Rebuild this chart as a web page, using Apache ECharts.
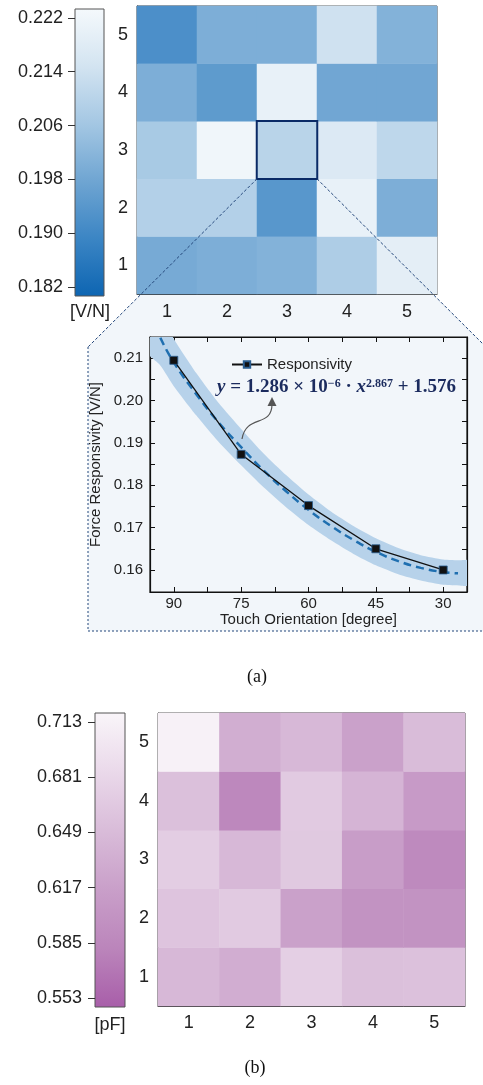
<!DOCTYPE html>
<html><head><meta charset="utf-8">
<script src="https://cdn.jsdelivr.net/npm/echarts@6/dist/echarts.min.js"></script>
<style>html,body{margin:0;padding:0;background:#fff}#c{width:483px;height:1085px}</style>
</head><body><div id="c"></div>
<script>
// ---------- data ----------
const xCats = ['1','2','3','4','5'];
const yCats = ['1','2','3','4','5'];
// Force responsivity [V/N], rows from y=1 (bottom) to y=5 (top)
const respRow1 = [0.199, 0.200, 0.201, 0.208, 0.219];
const respRow2 = [0.209, 0.209, 0.194, 0.220, 0.200];
const respRow3 = [0.207, 0.222, 0.210, 0.217, 0.211];
const respRow4 = [0.200, 0.195, 0.220, 0.198, 0.198];
const respRow5 = [0.192, 0.200, 0.200, 0.214, 0.201];
const respTicks = [0.182, 0.190, 0.198, 0.206, 0.214, 0.222];
// Capacitance [pF]
const capRow1 = [0.645, 0.632, 0.672, 0.655, 0.656];
const capRow2 = [0.660, 0.667, 0.618, 0.600, 0.600];
const capRow3 = [0.670, 0.645, 0.665, 0.613, 0.588];
const capRow4 = [0.655, 0.586, 0.667, 0.641, 0.610];
const capRow5 = [0.713, 0.633, 0.645, 0.618, 0.650];
const capTicks = [0.553, 0.585, 0.617, 0.649, 0.681, 0.713];
// inset: responsivity vs touch orientation
const orientDeg = [90, 75, 60, 45, 30];
const respVal = [0.2095, 0.1873, 0.1752, 0.1650, 0.1600];
const fitX = [93, 90, 85, 80, 75, 70, 65, 60, 55, 50, 45, 40, 35, 30, 26.7];
const fitY = [0.2148, 0.2090, 0.2015, 0.1948, 0.1890, 0.1835, 0.1786, 0.1742, 0.1704, 0.1671, 0.1643, 0.1621, 0.1605, 0.1595, 0.1592];
const bandX = [97, 93, 90, 85, 80, 75, 70, 65, 60, 55, 50, 45, 40, 35, 30, 26, 21];
const bandLow = [0.2125, 0.2083, 0.2034, 0.1965, 0.1902, 0.1847, 0.1795, 0.1748, 0.1706, 0.1670, 0.1638, 0.1611, 0.1590, 0.1575, 0.1565, 0.1563, 0.1563];
const bandHigh = [0.2290, 0.2213, 0.2146, 0.2065, 0.1994, 0.1933, 0.1875, 0.1824, 0.1778, 0.1738, 0.1704, 0.1675, 0.1652, 0.1635, 0.1625, 0.1623, 0.1623];
const degTicks = [30, 37.5, 45, 52.5, 60, 67.5, 75, 82.5, 90];
const degLabels = [30, 45, 60, 75, 90];
const rTicks = [0.16, 0.165, 0.17, 0.175, 0.18, 0.185, 0.19, 0.195, 0.20, 0.205, 0.21];
const rLabels = [0.16, 0.17, 0.18, 0.19, 0.20, 0.21];

// ---------- styles ----------
const blueStops = ['#0d65b2', '#3b85c4', '#6fa5d2', '#a4c7e3', '#d3e4f1', '#f5f9fc'];
const purpleStops = ['#a85ea9', '#bb85bb', '#c99fc9', '#d9bcd9', '#ead9ea', '#f9f5f9'];
const respRange = [0.1807, 0.2233];
const capRange = [0.5478, 0.7182];
const SANS = 'Liberation Sans, Arial, sans-serif';
const SERIF = 'Liberation Serif, Times New Roman, serif';
const TXT = '#222';

function gradient(stops) {
  return { type: 'linear', x: 0, y: 1, x2: 0, y2: 0,
    colorStops: stops.map((c, i) => ({ offset: i / (stops.length - 1), color: c })) };
}
function cells(rows, hi) {
  const out = [];
  let last = null;
  rows.forEach((row, yi) => row.forEach((v, xi) => {
    const item = { value: [xi, yi, v] };
    if (hi && hi[0] === xi && hi[1] === yi) {
      item.itemStyle = { borderColor: '#0a2a66', borderWidth: 2 };
      last = item;
    } else out.push(item);
  }));
  if (last) out.push(last);
  return out;
}
const respRows = [respRow1, respRow2, respRow3, respRow4, respRow5];
const capRows = [capRow1, capRow2, capRow3, capRow4, capRow5];

const catX = (gi, margin) => ({
  type: 'category', data: xCats, gridIndex: gi, position: 'bottom',
  axisLine: { lineStyle: { color: '#333', width: 1 } },
  axisTick: { alignWithLabel: true, length: 6, lineStyle: { color: '#333' } },
  axisLabel: { fontSize: 18, color: TXT, fontFamily: SANS, margin: margin },
  splitLine: { show: false }
});
const catY = (gi) => ({
  type: 'category', data: yCats, gridIndex: gi, position: 'left',
  axisLine: { lineStyle: { color: '#333', width: 1 } },
  axisTick: { alignWithLabel: true, length: 6, lineStyle: { color: '#333' } },
  axisLabel: { fontSize: 18, color: TXT, fontFamily: SANS, margin: 9 },
  splitLine: { show: false }
});
const barY = (gi, range, ticks, margin) => ({
  type: 'value', gridIndex: gi, min: range[0], max: range[1], position: 'left',
  axisLine: { show: false },
  axisTick: { show: true, length: 7, customValues: ticks, lineStyle: { color: '#333' } },
  axisLabel: { customValues: ticks, formatter: v => v.toFixed(3), fontSize: 18, color: TXT, fontFamily: SANS, margin: margin },
  splitLine: { show: false }
});
const hidX = (gi) => ({ type: 'value', gridIndex: gi, show: false, min: 0, max: 1 });

const insetX = (pos, showLabel) => ({
  type: 'value', gridIndex: 2, min: 24.7, max: 95.3, inverse: true, position: pos,
  axisLine: { show: true, onZero: false, lineStyle: { color: '#111', width: 1.2 } },
  axisTick: { inside: true, length: 5, customValues: degTicks, lineStyle: { color: '#111' } },
  axisLabel: { show: showLabel, customValues: degLabels, fontSize: 15, color: TXT, fontFamily: SANS, margin: 4 },
  splitLine: { show: false },
  name: showLabel ? 'Touch Orientation [degree]' : '', nameLocation: 'middle', nameGap: 19,
  nameTextStyle: { fontSize: 15, color: TXT, fontFamily: SANS }
});
const insetY = (pos, showLabel) => ({
  type: 'value', gridIndex: 2, min: 0.1548, max: 0.215, position: pos,
  axisLine: { show: true, onZero: false, lineStyle: { color: '#111', width: 1.2 } },
  axisTick: { inside: true, length: 5, customValues: rTicks, lineStyle: { color: '#111' } },
  axisLabel: { show: showLabel, customValues: rLabels, formatter: v => v.toFixed(2), fontSize: 15, color: TXT, fontFamily: SANS, margin: 7 },
  splitLine: { show: false },
  name: showLabel ? 'Force Responsivity [V/N]' : '', nameLocation: 'middle', nameGap: 37,
  nameTextStyle: { fontSize: 15, color: TXT, fontFamily: SANS }
});

const option = {
  animation: false,
  backgroundColor: '#fff',
  grid: [
    { left: 137, top: 6, width: 300, height: 288, show: true, borderColor: '#444', borderWidth: 1, backgroundColor: 'transparent' },
    { left: 75, top: 9, width: 29, height: 287, show: true, borderColor: '#555', borderWidth: 1, backgroundColor: gradient(blueStops) },
    { left: 150, top: 337, width: 317, height: 255, show: true, borderColor: '#111', borderWidth: 1.2, backgroundColor: 'transparent' },
    { left: 158, top: 713, width: 307, height: 293, show: true, borderColor: '#333', borderWidth: 1, backgroundColor: 'transparent' },
    { left: 95, top: 713, width: 30, height: 294, show: true, borderColor: '#555', borderWidth: 1, backgroundColor: gradient(purpleStops) }
  ],
  xAxis: [catX(0, 9), hidX(1), insetX('bottom', true), insetX('top', false), catX(3, 8), hidX(4)],
  yAxis: [catY(0), barY(1, respRange, respTicks, 12), insetY('left', true), insetY('right', false), catY(3), barY(4, capRange, capTicks, 13)],
  visualMap: [
    { show: false, type: 'continuous', seriesIndex: 0, dimension: 2, min: respRange[0], max: respRange[1], inRange: { color: blueStops } },
    { show: false, type: 'continuous', seriesIndex: 1, dimension: 2, min: capRange[0], max: capRange[1], inRange: { color: purpleStops } }
  ],
  legend: {
    data: ['Responsivity'], left: 226, top: 352, itemWidth: 30, itemHeight: 8, itemGap: 4,
    textStyle: { fontSize: 15, color: TXT, fontFamily: SANS }
  },
  series: [
    { type: 'heatmap', xAxisIndex: 0, yAxisIndex: 0, data: cells(respRows, [2, 2]), emphasis: { disabled: true } },
    { type: 'heatmap', xAxisIndex: 4, yAxisIndex: 4, data: cells(capRows, null), emphasis: { disabled: true } },
    { name: 'band', type: 'custom', xAxisIndex: 2, yAxisIndex: 2, clip: true, z: 1, silent: true,
      encode: { x: 0, y: [1, 2] },
      data: bandX.map((x, i) => [x, bandLow[i], bandHigh[i]]),
      renderItem: function (params, api) {
        if (params.dataIndexInside !== 0) return null;
        const n = params.dataInsideLength;
        const up = [], lo = [];
        for (let i = 0; i < n; i++) {
          up.push(api.coord([api.value(0, i), api.value(2, i)]));
          lo.push(api.coord([api.value(0, i), api.value(1, i)]));
        }
        const pts = up.concat(lo.reverse());
        return { type: 'polygon', shape: { points: pts, smooth: 0.2 }, style: { fill: '#b7d2ea', stroke: null } };
      } },
    { name: 'fit', type: 'line', xAxisIndex: 2, yAxisIndex: 2, smooth: true, symbol: 'none',
      lineStyle: { color: '#1f6fb0', width: 2.5, type: [8, 5] }, data: fitX.map((x, i) => [x, fitY[i]]), z: 3 },
    { name: 'Responsivity', type: 'line', xAxisIndex: 2, yAxisIndex: 2, symbol: 'rect', symbolSize: 8,
      itemStyle: { color: '#111', borderColor: '#2a5d8f', borderWidth: 0.8 },
      lineStyle: { color: '#111', width: 1.3 }, data: orientDeg.map((x, i) => [x, respVal[i]]), z: 4 }
  ]
};

const chart = echarts.init(document.getElementById('c'), null, { renderer: 'canvas' });
chart.setOption(option);

// zoom-in decoration derived from the highlighted cell (x=3, y=3) of the top grid
const g0 = option.grid[0];
const cw = g0.width / 5, ch = g0.height / 5;
const cellL = g0.left + 2 * cw, cellR = g0.left + 3 * cw, cellB = g0.top + 3 * ch;
const insetTop = 347, insetBot = 631, insetL = 88, insetR = 486;
const lineCol = '#23467a';
chart.setOption({
  graphic: [
    { type: 'polygon', z: -1, silent: true,
      shape: { points: [[cellL, cellB], [cellR, cellB], [insetR, insetTop], [insetR, insetBot], [insetL, insetBot], [insetL, insetTop]] },
      style: { fill: '#f2f6fa' } },
    { type: 'polyline', z: 50, silent: true, shape: { points: [[cellL, cellB], [insetL, insetTop]] },
      style: { stroke: lineCol, lineWidth: 1, lineDash: [3, 2], fill: null } },
    { type: 'polyline', z: 50, silent: true, shape: { points: [[cellR, cellB], [insetR, insetTop]] },
      style: { stroke: lineCol, lineWidth: 1, lineDash: [3, 2], fill: null } },
    { type: 'polyline', z: 50, silent: true, shape: { points: [[insetL, insetTop], [insetL, insetBot], [483, insetBot]] },
      style: { stroke: lineCol, lineWidth: 1, lineDash: [2, 2], fill: null } },
    { type: 'text', z: 50, silent: true, left: 217, top: 378,
      style: { text: '{i|y} = 1.286 × 10{s|−6} · {i|x}{s|2.867} + 1.576', fill: '#1b2b5e',
        font: 'bold 19px ' + SERIF,
        rich: { i: { fontStyle: 'italic', fontWeight: 'bold', fontSize: 19, fontFamily: SERIF, fill: '#1b2b5e' },
                s: { fontSize: 12, fontWeight: 'bold', fontFamily: SERIF, verticalAlign: 'top', fill: '#1b2b5e' } } } },
    { type: 'bezierCurve', z: 50, silent: true,
      shape: { x1: 242, y1: 439, cpx1: 246, cpy1: 414, cpx2: 272, cpy2: 428, x2: 272, y2: 404 },
      style: { stroke: '#555', lineWidth: 1.2, fill: null } },
    { type: 'polygon', z: 50, silent: true, shape: { points: [[272, 397], [267.5, 406], [276.5, 406]] }, style: { fill: '#555' } },
    { type: 'text', silent: true, x: 90, y: 312, style: { text: '[V/N]', font: '18px ' + SANS, fill: TXT, align: 'center', verticalAlign: 'middle' } },
    { type: 'text', silent: true, x: 110, y: 1025, style: { text: '[pF]', font: '18px ' + SANS, fill: TXT, align: 'center', verticalAlign: 'middle' } },
    { type: 'text', silent: true, x: 257, y: 677, style: { text: '(a)', font: '18px ' + SERIF, fill: '#111', align: 'center', verticalAlign: 'middle' } },
    { type: 'text', silent: true, x: 255, y: 1068, style: { text: '(b)', font: '18px ' + SERIF, fill: '#111', align: 'center', verticalAlign: 'middle' } }
  ]
});
</script></body></html>
